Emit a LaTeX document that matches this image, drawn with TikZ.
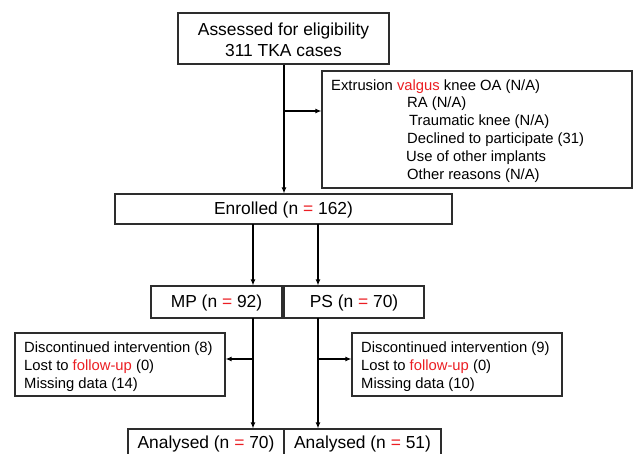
\documentclass[tikz,border=0pt]{standalone}
\usepackage{fontspec}
\setmainfont{Liberation Sans}
\usetikzlibrary{arrows.meta}
\definecolor{hl}{RGB}{235,30,35}
\definecolor{bd}{RGB}{45,45,45}
\newcommand{\bigf}{\fontsize{17.4}{21}\selectfont}
\newcommand{\smf}{\fontsize{14.8}{17.7}\selectfont}
\tikzset{
  boxnode/.style={draw=bd, line width=1.1pt, inner sep=0pt, rectangle},
  bigtext/.style={font=\bigf, inner sep=0pt},
  smtext/.style={font=\smf, inner sep=0pt, anchor=base west},
  arr/.style={line width=1.3pt, -{Latex[length=6pt,width=5pt]}},
  ln/.style={line width=1.3pt}
}
\begin{document}
\begin{tikzpicture}[x=1pt,y=-1pt]
\useasboundingbox (0,0) rectangle (633,454);
% top box
\node[boxnode, minimum width=211pt, minimum height=51pt] (top) at (283.5,38.5) {};
\node[bigtext, align=center] (toptext) at (283.5,40) {Assessed for eligibility\\311 TKA cases};
% exclusion box
\node[boxnode, minimum width=310pt, minimum height=117pt] (excl) at (477,129.5) {};
\node[smtext] (e1) at (331,90.7) {Extrusion \textcolor{hl}{valgus} knee OA (N/A)};
\node[smtext] (e2) at (407,107.8) {RA (N/A)};
\node[smtext] (e3) at (409,125.5) {Traumatic knee (N/A)};
\node[smtext] (e4) at (407,143.5) {Declined to participate (31)};
\node[smtext] (e5) at (406,161.5) {Use of other implants};
\node[smtext] (e6) at (407,179.2) {Other reasons (N/A)};
% enrolled
\node[boxnode, minimum width=337pt, minimum height=30pt] (enr) at (283.5,209) {};
\node[bigtext] (enrtext) at (283.5,210) {Enrolled (n \textcolor{hl}{=} 162)};
% MP / PS
\node[boxnode, minimum width=131pt, minimum height=32pt] (mp) at (216.5,302) {};
\node[bigtext] (mptext) at (216.5,303) {MP (n \textcolor{hl}{=} 92)};
\node[boxnode, minimum width=140pt, minimum height=32pt] (ps) at (354,302) {};
\node[bigtext] (pstext) at (354,303) {PS (n \textcolor{hl}{=} 70)};
% lower exclusion boxes
\node[boxnode, minimum width=210pt, minimum height=63pt] (lx) at (120,364.5) {};
\node[smtext] (l1) at (24,352.5) {Discontinued intervention (8)};
\node[smtext] (l2) at (24,370.3) {Lost to \textcolor{hl}{follow-up} (0)};
\node[smtext] (l3) at (24,388.2) {Missing data (14)};
\node[boxnode, minimum width=210pt, minimum height=63pt] (rx) at (457,364.5) {};
\node[smtext] (r1) at (361,352.5) {Discontinued intervention (9)};
\node[smtext] (r2) at (361,370.3) {Lost to \textcolor{hl}{follow-up} (0)};
\node[smtext] (r3) at (361,388.2) {Missing data (10)};
% analysed
\node[boxnode, minimum width=156pt, minimum height=34pt] (an1) at (206,446) {};
\node[bigtext] (an1text) at (206,444) {Analysed (n \textcolor{hl}{=} 70)};
\node[boxnode, minimum width=157pt, minimum height=34pt] (an2) at (362.5,446) {};
\node[bigtext] (an2text) at (362.5,444) {Analysed (n \textcolor{hl}{=} 51)};
% coordinates
\coordinate (t0) at (284,64);
\coordinate (j1) at (284,111);
\coordinate (a1) at (253,224);
\coordinate (a2) at (318,224);
\coordinate (b1) at (253,318);
\coordinate (b2) at (318,318);
\coordinate (j2) at (253,359);
\coordinate (j3) at (318,359);
% connectors
\draw[arr] (top.south -| t0) -- (enr.north -| t0);
\draw[arr] (j1) -- (excl.west |- j1);
\draw[arr] (a1) -- (mp.north -| a1);
\draw[arr] (a2) -- (ps.north -| a2);
\draw[arr] (b1) -- (an1.north -| b1);
\draw[arr] (b2) -- (an2.north -| b2);
\draw[arr] (j2) -- (lx.east |- j2);
\draw[arr] (j3) -- (rx.west |- j3);
\end{tikzpicture}
\end{document}
